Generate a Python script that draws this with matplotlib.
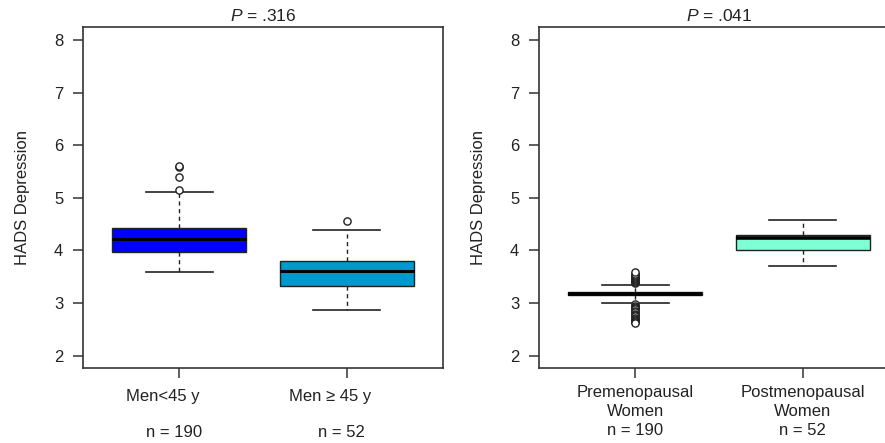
import matplotlib
matplotlib.use("Agg")
import matplotlib.pyplot as plt
import matplotlib.transforms as mtransforms

plt.rcParams['font.family'] = ['Liberation Sans', 'DejaVu Sans']
plt.rcParams['mathtext.fontset'] = 'custom'
plt.rcParams['mathtext.it'] = 'Liberation Sans:italic'
plt.rcParams['mathtext.rm'] = 'Liberation Sans'

# ---------------- data ----------------
left_labels = ["Men<45 y", "Men \u2265 45 y"]
left_n = [190, 52]
left_whislo = [3.58, 2.86]
left_q1 = [3.96, 3.33]
left_med = [4.21, 3.60]
left_q3 = [4.43, 3.80]
left_whishi = [5.11, 4.38]
left_fliers = [[5.15, 5.40, 5.58, 5.61], [4.56]]
left_colors = ["#0000FF", "#0099CC"]
left_p = ".316"

right_labels = ["Premenopausal\nWomen", "Postmenopausal\nWomen"]
right_n = [190, 52]
right_whislo = [3.00, 3.70]
right_q1 = [3.15, 4.01]
right_med = [3.18, 4.23]
right_q3 = [3.21, 4.29]
right_whishi = [3.35, 4.58]
right_fliers = [[3.38, 3.40, 3.42, 3.44, 3.46, 3.48, 3.50, 3.52, 3.54, 3.56, 3.58,
                 2.98, 2.95, 2.92, 2.90, 2.88, 2.85, 2.82, 2.80, 2.77, 2.75,
                 2.72, 2.70, 2.68, 2.66, 2.64, 2.62],
                []]
right_colors = ["#FFFFFF", "#7FFFD4"]
right_p = ".041"

yticks = [2, 3, 4, 5, 6, 7, 8]

TXT = "#222222"
SP = "#333333"

fig = plt.figure(figsize=(8.85, 4.43), dpi=100)
axL = fig.add_axes([83/885, 1-368/443, 360/885, 341/443])
axR = fig.add_axes([539/885, 1-368/443, 360/885, 341/443])


def draw(ax, whislo, q1, med, q3, whishi, fliers, colors, p, med_lw):
    stats = []
    for i in range(len(med)):
        stats.append(dict(whislo=whislo[i], q1=q1[i], med=med[i], q3=q3[i],
                          whishi=whishi[i], fliers=fliers[i]))
    res = ax.bxp(stats, positions=[1, 2], widths=0.8, patch_artist=True,
                 showfliers=True, manage_ticks=False,
                 boxprops=dict(edgecolor="#222222", linewidth=1.0),
                 medianprops=dict(color="black", linewidth=med_lw,
                                  solid_capstyle="butt"),
                 whiskerprops=dict(color="#222222", linewidth=1.0,
                                   linestyle=(0, (3, 2.5))),
                 capprops=dict(color="#222222", linewidth=1.2),
                 capwidths=0.4,
                 flierprops=dict(marker="o", markersize=5.2,
                                 markerfacecolor="white",
                                 markeredgecolor="#222222",
                                 markeredgewidth=1.0))
    for patch, c in zip(res["boxes"], colors):
        patch.set_facecolor(c)
    ax.set_xlim(0.425, 2.575)
    ax.set_ylim(1.764, 8.247)
    ax.set_yticks(yticks)
    ax.set_yticklabels([str(t) for t in yticks])
    ax.set_xticks([1, 2])
    ax.set_xticklabels(["", ""])
    ax.tick_params(axis="both", direction="out", length=7.2, width=1.1,
                   color=SP, labelsize=12, labelcolor=TXT, pad=7)
    for s in ax.spines.values():
        s.set_linewidth(1.2)
        s.set_color(SP)
    ax.set_ylabel("HADS Depression", fontsize=12, color=TXT)
    ax.yaxis.set_label_coords(-0.148, 0.5)
    ax.set_title(r"$\it{P}$ = " + p, fontsize=12.5, color=TXT, pad=4)


draw(axL, left_whislo, left_q1, left_med, left_q3, left_whishi,
     left_fliers, left_colors, left_p, 2.2)
draw(axR, right_whislo, right_q1, right_med, right_q3, right_whishi,
     right_fliers, right_colors, right_p, 2.6)

# x labels
trL = mtransforms.blended_transform_factory(axL.transData, axL.transAxes)
for i, (lab, n) in enumerate(zip(left_labels, left_n)):
    axL.text(i + 1 - 0.1, -0.085, lab, transform=trL, ha="center", va="center",
             fontsize=12, color=TXT)
    axL.text(i + 1 - 0.03, -0.19, "n = %d" % n, transform=trL, ha="center",
             va="center", fontsize=12, color=TXT)

trR = mtransforms.blended_transform_factory(axR.transData, axR.transAxes)
for i, (lab, n) in enumerate(zip(right_labels, right_n)):
    axR.text(i + 1, -0.128, lab + "\nn = %d" % n, transform=trR, ha="center",
             va="center", fontsize=12, color=TXT, linespacing=1.32,
             multialignment="center")

fig.savefig("out.png", dpi=100)
